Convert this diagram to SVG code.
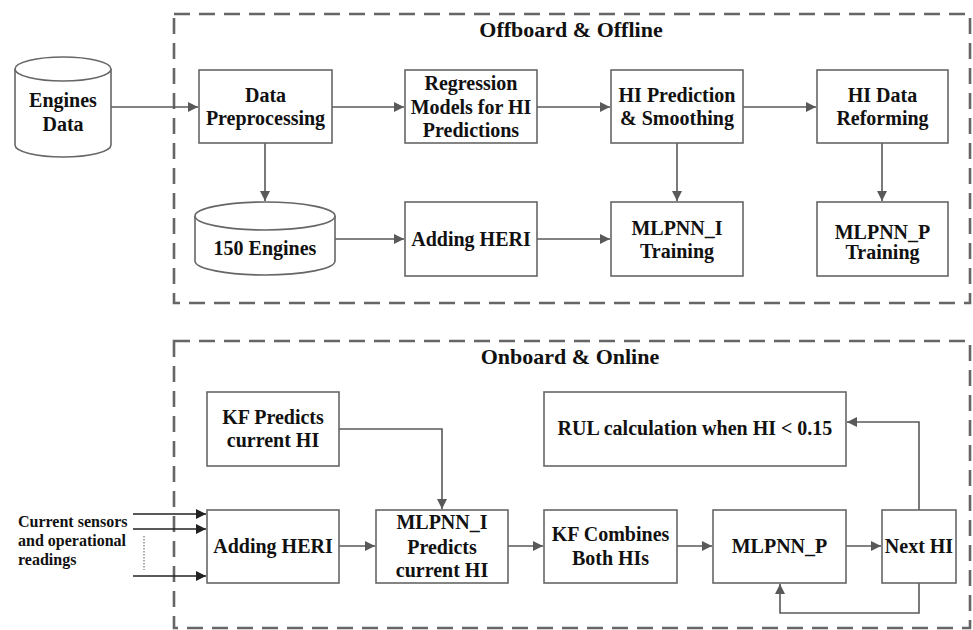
<svg xmlns="http://www.w3.org/2000/svg" width="973" height="630" viewBox="0 0 973 630">
<defs>
<style>
.bg{fill:#fff}
.box{fill:#fff;stroke:#666;stroke-width:1.6}
.grp{fill:none;stroke:#666;stroke-width:2.6;stroke-dasharray:16 9}
.t{font-family:"Liberation Serif","Times New Roman",serif;font-weight:bold;font-size:20px;fill:#111;text-anchor:middle}
.title{font-size:22px}
.small{font-size:16px;text-anchor:start}
.c{fill:none;stroke:#595959;stroke-width:1.6}
.ci{fill:none;stroke:#222;stroke-width:1.6}
</style>
<marker id="ah" viewBox="0 0 10 10" refX="10" refY="5" markerWidth="11" markerHeight="10" markerUnits="userSpaceOnUse" orient="auto">
<path d="M0,0 L10,5 L0,10 Z" fill="#595959"/>
</marker>
<marker id="ahk" viewBox="0 0 10 10" refX="10" refY="5" markerWidth="11" markerHeight="10" markerUnits="userSpaceOnUse" orient="auto">
<path d="M0,0 L10,5 L0,10 Z" fill="#222"/>
</marker>
</defs>
<rect class="bg" x="0" y="0" width="973" height="630"/>
<g id="group-offboard">
<rect class="grp" x="174" y="14" width="796" height="289"/>
<text class="t title" x="571" y="37">Offboard &amp; Offline</text>
</g>
<g id="group-onboard">
<rect class="grp" x="174" y="341" width="796" height="287"/>
<text class="t title" x="570" y="364">Onboard &amp; Online</text>
</g>
<g id="connectors">
<path class="c" d="M111,107 H198" marker-end="url(#ah)"/>
<path class="c" d="M332,107 H404" marker-end="url(#ah)"/>
<path class="c" d="M537,107 H610" marker-end="url(#ah)"/>
<path class="c" d="M743,107 H816" marker-end="url(#ah)"/>
<path class="c" d="M265,143 V201" marker-end="url(#ah)"/>
<path class="c" d="M677,143 V201" marker-end="url(#ah)"/>
<path class="c" d="M882,143 V201" marker-end="url(#ah)"/>
<path class="c" d="M335,239 H404" marker-end="url(#ah)"/>
<path class="c" d="M537,239 H610" marker-end="url(#ah)"/>
<path class="c" d="M339,429 H442 V509" marker-end="url(#ah)"/>
<path class="c" d="M339,546 H375" marker-end="url(#ah)"/>
<path class="c" d="M508,546 H543" marker-end="url(#ah)"/>
<path class="c" d="M677,546 H712" marker-end="url(#ah)"/>
<path class="c" d="M846,546 H881" marker-end="url(#ah)"/>
<path class="c" d="M919,510 V422 H847" marker-end="url(#ah)"/>
<path class="c" d="M919,583 V613 H780 V584" marker-end="url(#ah)"/>
<path class="ci" d="M133,514 H206" marker-end="url(#ahk)"/>
<path class="ci" d="M133,529 H206" marker-end="url(#ahk)"/>
<path class="ci" d="M133,576 H206" marker-end="url(#ahk)"/>
<path d="M144,536 V570" stroke="#555" stroke-width="1" stroke-dasharray="1.5 1.5" fill="none"/>
</g>
<g id="engines-data">
<path class="box" d="M15,69 A48,12 0 0,1 111,69 V145 A48,12 0 0,1 15,145 Z"/>
<path class="box" d="M15,69 A48,12 0 0,0 111,69"/>
<text class="t" x="63" y="107">Engines</text>
<text class="t" x="63" y="131">Data</text>
</g>
<g id="data-preprocessing">
<rect class="box" x="199" y="70" width="133" height="73"/>
<text class="t" x="265.5" y="102">Data</text>
<text class="t" x="265.5" y="125">Preprocessing</text>
</g>
<g id="regression-models">
<rect class="box" x="405" y="70" width="132" height="73"/>
<text class="t" x="471" y="90">Regression</text>
<text class="t" x="471" y="114">Models for HI</text>
<text class="t" x="471" y="137">Predictions</text>
</g>
<g id="hi-prediction">
<rect class="box" x="611" y="70" width="132" height="73"/>
<text class="t" x="677" y="102">HI Prediction</text>
<text class="t" x="677" y="125">&amp; Smoothing</text>
</g>
<g id="hi-data-reforming">
<rect class="box" x="817" y="70" width="131" height="73"/>
<text class="t" x="882.5" y="102">HI Data</text>
<text class="t" x="882.5" y="125">Reforming</text>
</g>
<g id="engines-150">
<path class="box" d="M195,216 A70,14 0 0,1 335,216 V261 A70,14 0 0,1 195,261 Z"/>
<path class="box" d="M195,216 A70,14 0 0,0 335,216"/>
<text class="t" x="265" y="255">150 Engines</text>
</g>
<g id="adding-heri-off">
<rect class="box" x="405" y="202" width="132" height="74"/>
<text class="t" x="471" y="246">Adding HERI</text>
</g>
<g id="mlpnn-i-training">
<rect class="box" x="611" y="202" width="132" height="74"/>
<text class="t" x="677" y="235">MLPNN_I</text>
<text class="t" x="677" y="258">Training</text>
</g>
<g id="mlpnn-p-training">
<rect class="box" x="817" y="202" width="131" height="74"/>
<text class="t" x="882.5" y="239">MLPNN_P</text>
<text class="t" x="882.5" y="259">Training</text>
</g>
<g id="kf-predicts">
<rect class="box" x="207" y="392" width="132" height="74"/>
<text class="t" x="273" y="424">KF Predicts</text>
<text class="t" x="273" y="447">current HI</text>
</g>
<g id="rul-calculation">
<rect class="box" x="544" y="392" width="302" height="74"/>
<text class="t" x="695" y="435">RUL calculation when HI &lt; 0.15</text>
</g>
<g id="inputs">
<text class="t small" x="18" y="527">Current sensors</text>
<text class="t small" x="18" y="546">and operational</text>
<text class="t small" x="18" y="565">readings</text>
</g>
<g id="adding-heri-on">
<rect class="box" x="207" y="510" width="132" height="73"/>
<text class="t" x="273" y="553">Adding HERI</text>
</g>
<g id="mlpnn-i-predicts">
<rect class="box" x="376" y="510" width="132" height="73"/>
<text class="t" x="442" y="529">MLPNN_I</text>
<text class="t" x="442" y="554">Predicts</text>
<text class="t" x="442" y="577">current HI</text>
</g>
<g id="kf-combines">
<rect class="box" x="544" y="510" width="133" height="73"/>
<text class="t" x="610.5" y="541">KF Combines</text>
<text class="t" x="610.5" y="565">Both HIs</text>
</g>
<g id="mlpnn-p">
<rect class="box" x="713" y="510" width="133" height="73"/>
<text class="t" x="779.5" y="553">MLPNN_P</text>
</g>
<g id="next-hi">
<rect class="box" x="882" y="510" width="74" height="73"/>
<text class="t" x="919" y="553">Next HI</text>
</g>
</svg>
